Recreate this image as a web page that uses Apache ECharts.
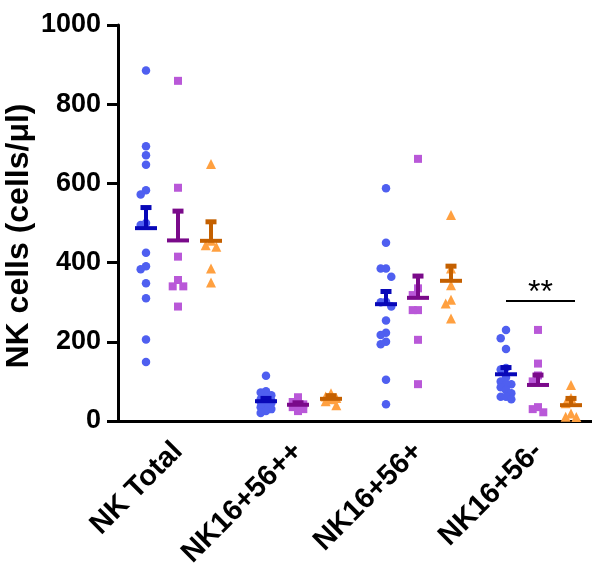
<!DOCTYPE html>
<html>
<head>
<meta charset="utf-8">
<script src="https://cdn.jsdelivr.net/npm/echarts@6/dist/echarts.min.js"></script>
<style>
  html, body { margin: 0; padding: 0; background: #ffffff; }
  #chart { width: 592px; height: 572px; }
</style>
</head>
<body>
<div id="chart"></div>
<script>
// Categories on the x axis
const categories = ['NK Total', 'NK16+56++', 'NK16+56+', 'NK16+56-'];
const yTicks = { min: 0, max: 1000, step: 200 };

// Individual measurements (cells/µl), one list per category
const blueValues = [
  [885, 694, 671, 647, 583, 572, 500, 495, 425, 391, 383, 348, 310, 206, 149],
  [114, 75, 72, 65, 60, 55, 52, 50, 48, 45, 40, 35, 30, 25, 20],
  [588, 450, 385, 385, 364, 301, 300, 289, 254, 223, 217, 200, 194, 104, 42],
  [230, 209, 182, 134, 130, 110, 100, 93, 93, 85, 78, 70, 61, 61, 55]
];
const purpleValues = [
  [859, 589, 415, 356, 340, 340, 289],
  [60, 48, 42, 38, 35, 30, 25],
  [662, 335, 318, 280, 280, 205, 93],
  [230, 145, 115, 100, 35, 30, 22]
];
const orangeValues = [
  [649, 455, 444, 440, 385, 350],
  [70, 62, 58, 55, 50, 40],
  [520, 385, 343, 306, 297, 259],
  [91, 58, 45, 19, 11, 10]
];

// Group mean and SEM per category
const blueMean = [487, 50, 295, 118];
const blueSem = [52, 7, 32, 17];
const purpleMean = [456, 41, 311, 91];
const purpleSem = [74, 5, 55, 25];
const orangeMean = [455, 56, 354, 40];
const orangeSem = [48, 8, 37, 17];

// Significance bracket over the last category
const sigLabel = '**';
const sigLevel = 303;
const sigCategory = 3;

// ---- layout / style ----
const FONT = '"Liberation Sans", Arial, Helvetica, sans-serif';
const GRID = { left: 118, top: 25, width: 480, height: 396 };
const PX_PER_CAT = GRID.width / categories.length;
const PX_PER_UNIT = GRID.height / (yTicks.max - yTicks.min);

const groups = [
  { values: blueValues, mean: blueMean, sem: blueSem, shift: -32, symbol: 'circle', size: 8.5,
    point: '#4f5ff0', bar: '#0808b8' },
  { values: purpleValues, mean: purpleMean, sem: purpleSem, shift: 0, symbol: 'rect', size: 8,
    point: '#b958d8', bar: '#7a0a8a' },
  { values: orangeValues, mean: orangeMean, sem: orangeSem, shift: 33, symbol: 'triangle', size: 10,
    point: '#ffa040', bar: '#c46000' }
];

// Spread overlapping points into at most three columns
function swarm(vals, cat, shiftPx, diam) {
  const step = 5.3;
  const cands = [0, -step, step];
  const placed = [];
  const order = vals.map((v, i) => i).sort((a, b) => vals[b] - vals[a]);
  const out = new Array(vals.length);
  order.forEach(i => {
    const py = vals[i] * PX_PER_UNIT;
    let best = 0, bestDist = -1;
    for (const c of cands) {
      const d = placed.reduce((m, p) => Math.min(m, Math.hypot(p[0] - c, p[1] - py)), Infinity);
      if (d >= diam) { best = c; bestDist = d; break; }
      if (d > bestDist) { bestDist = d; best = c; }
    }
    placed.push([best, py]);
    out[i] = [cat + (shiftPx + best) / PX_PER_CAT, vals[i]];
  });
  return out;
}

const series = [];
groups.forEach(g => {
  const pts = [];
  g.values.forEach((vals, cat) => pts.push(...swarm(vals, cat, g.shift, g.size)));
  series.push({
    type: 'scatter', xAxisIndex: 1, yAxisIndex: 0,
    symbol: g.symbol, symbolSize: g.size,
    itemStyle: { color: g.point, opacity: 1 },
    data: pts, z: 2, silent: true
  });
});

groups.forEach(g => {
  series.push({
    type: 'custom', xAxisIndex: 1, yAxisIndex: 0, z: 3, silent: true,
    encode: { x: 0, y: 1 },
    data: g.mean.map((m, cat) => [cat + g.shift / PX_PER_CAT, m, g.sem[cat]]),
    renderItem: function (params, api) {
      const x = api.value(0), m = api.value(1), s = api.value(2);
      const pm = api.coord([x, m]);
      const pt = api.coord([x, m + s]);
      const st = { stroke: g.bar, lineWidth: 4, lineCap: 'butt' };
      return {
        type: 'group',
        children: [
          { type: 'line', shape: { x1: pm[0], y1: pm[1], x2: pm[0], y2: pt[1] }, style: st },
          { type: 'line', shape: { x1: pm[0] - 5.5, y1: pt[1], x2: pm[0] + 5.5, y2: pt[1] },
            style: { stroke: g.bar, lineWidth: 5 } },
          { type: 'line', shape: { x1: pm[0] - 11, y1: pm[1], x2: pm[0] + 11, y2: pm[1] }, style: st }
        ]
      };
    }
  });
});

// Significance bracket
series.push({
  type: 'custom', xAxisIndex: 1, yAxisIndex: 0, z: 4, silent: true,
  encode: { x: 0, y: 1 },
  data: [[sigCategory + groups[0].shift / PX_PER_CAT, sigLevel, sigCategory + (groups[2].shift + 4) / PX_PER_CAT]],
  renderItem: function (params, api) {
    const a = api.coord([api.value(0), api.value(1)]);
    const b = api.coord([api.value(2), api.value(1)]);
    return {
      type: 'group',
      children: [
        { type: 'line', shape: { x1: a[0], y1: a[1], x2: b[0], y2: b[1] },
          style: { stroke: '#000', lineWidth: 2 } },
        { type: 'text', x: (a[0] + b[0]) / 2, y: a[1] - 8,
          style: { text: sigLabel, fill: '#000', font: '32px ' + FONT,
                   textAlign: 'center', textVerticalAlign: 'middle' } }
      ]
    };
  }
});

const chart = echarts.init(document.getElementById('chart'), null, { renderer: 'canvas' });
chart.setOption({
  animation: false,
  backgroundColor: '#ffffff',
  grid: Object.assign({ containLabel: false, outerBoundsMode: 'none' }, GRID),
  xAxis: [
    {
      type: 'category', data: categories, boundaryGap: true,
      axisLine: { onZero: false, lineStyle: { color: '#000', width: 3 } },
      axisTick: { alignWithLabel: true, length: 11, lineStyle: { color: '#000', width: 3 } },
      axisLabel: { rotate: 45, margin: 26, color: '#000', fontSize: 29, fontWeight: 'bold',
                   fontFamily: FONT, interval: 0 },
      splitLine: { show: false }
    },
    {
      type: 'value', min: -0.5, max: categories.length - 0.5, show: false,
      splitLine: { show: false }
    }
  ],
  yAxis: {
    type: 'value', min: yTicks.min, max: yTicks.max, interval: yTicks.step,
    name: 'NK cells (cells/μl)', nameLocation: 'middle', nameRotate: 90, nameGap: 83,
    nameMoveOverlap: false,
    nameTextStyle: { color: '#000', fontSize: 32, fontWeight: 'bold', fontFamily: FONT,
                     padding: [0, 26, 0, 0] },
    axisLine: { show: true, onZero: false, lineStyle: { color: '#000', width: 3 } },
    axisTick: { show: true, length: 11, lineStyle: { color: '#000', width: 3 } },
    axisLabel: { margin: 17, color: '#000', fontSize: 27, fontWeight: 'bold', fontFamily: FONT,
                 formatter: v => String(v) },
    splitLine: { show: false }
  },
  series: series
});
</script>
</body>
</html>
